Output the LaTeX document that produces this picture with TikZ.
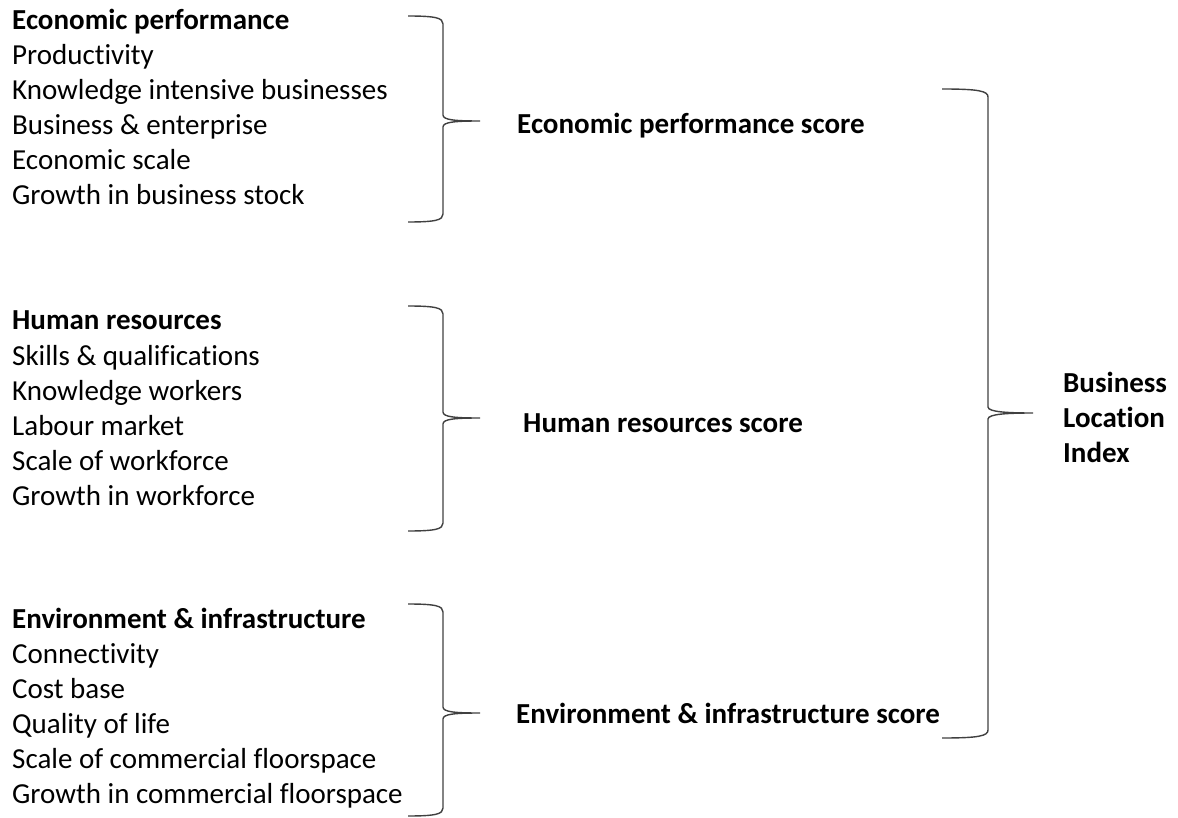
\documentclass[tikz,border=0pt]{standalone}
\usepackage{fontspec}
\setmainfont[Ligatures=NoCommon]{Carlito}
\usetikzlibrary{calc}
\newcommand\curlybrace[4]{% top end, tip, bottom end, reach of the curl
 \draw[bracepath] (#1) .. controls +(#4*0.8,0) and +(0,-6) .. ($(#1)+(#4,8)$) coordinate (#1v)
  -- ($(#1v |- #2)+(0,-6)$) .. controls +(0,5) and +(-25,0) .. (#2)
  .. controls +(-25,0) and +(0,-5) .. ($(#1v |- #2)+(0,6)$)
  -- ($(#1v |- #3)+(0,-8)$) .. controls +(0,6) and +(#4*0.8,0) .. (#3);}

\begin{document}
\begin{tikzpicture}[x=1pt,y=-1pt,font={\fontsize{29}{35}\selectfont},
  bracepath/.style={line width=1.4pt,black!75},
  item/.style={anchor=base west,inner sep=0pt},
  head/.style={item,font={\fontsize{29}{35}\selectfont\bfseries}}]
\useasboundingbox (0,0) rectangle (1178,818);

% economic performance
\node[head] (econ)  at (12,30)  {Economic performance};
\node[item] (econ1) at (12,65)  {Productivity};
\node[item] (econ2) at (12,100) {Knowledge intensive businesses};
\node[item] (econ3) at (12,135) {Business \& enterprise};
\node[item] (econ4) at (12,170) {Economic scale};
\node[item] (econ5) at (12,205) {Growth in business stock};

% human resources
\node[head] (hum)  at (12,330) {Human resources};
\node[item] (hum1) at (12,365) {Skills \& qualifications};
\node[item] (hum2) at (12,400) {Knowledge workers};
\node[item] (hum3) at (12,435) {Labour market};
\node[item] (hum4) at (12,470) {Scale of workforce};
\node[item] (hum5) at (12,505) {Growth in workforce};

% environment & infrastructure
\node[head] (env)  at (12,628) {Environment \& infrastructure};
\node[item] (env1) at (12,663) {Connectivity};
\node[item] (env2) at (12,698) {Cost base};
\node[item] (env3) at (12,733) {Quality of life};
\node[item] (env4) at (12,768) {Scale of commercial floorspace};
\node[item] (env5) at (12,803) {Growth in commercial floorspace};

% scores
\node[head] (econScore) at (517,134) {Economic performance score};
\node[head] (humScore)  at (523,432) {Human resources score};
\node[head] (envScore)  at (516,723) {Environment \& infrastructure score};
\node[head,anchor=north west,align=left] (bli) at (1063,372) {Business\\Location\\Index};

% braces
\coordinate (eTop) at (408,16);  \coordinate (eTip) at (480,121); \coordinate (eBot) at (408,222);
\coordinate (hTop) at (408,306); \coordinate (hTip) at (480,418); \coordinate (hBot) at (408,531);
\coordinate (vTop) at (408,604); \coordinate (vTip) at (480,713); \coordinate (vBot) at (408,816);
\coordinate (bTop) at (942,89);  \coordinate (bTip) at (1033,413); \coordinate (bBot) at (942,738);
\curlybrace{eTop}{eTip}{eBot}{35}
\curlybrace{hTop}{hTip}{hBot}{35}
\curlybrace{vTop}{vTip}{vBot}{35}
\curlybrace{bTop}{bTip}{bBot}{46}

\end{tikzpicture}
\end{document}
